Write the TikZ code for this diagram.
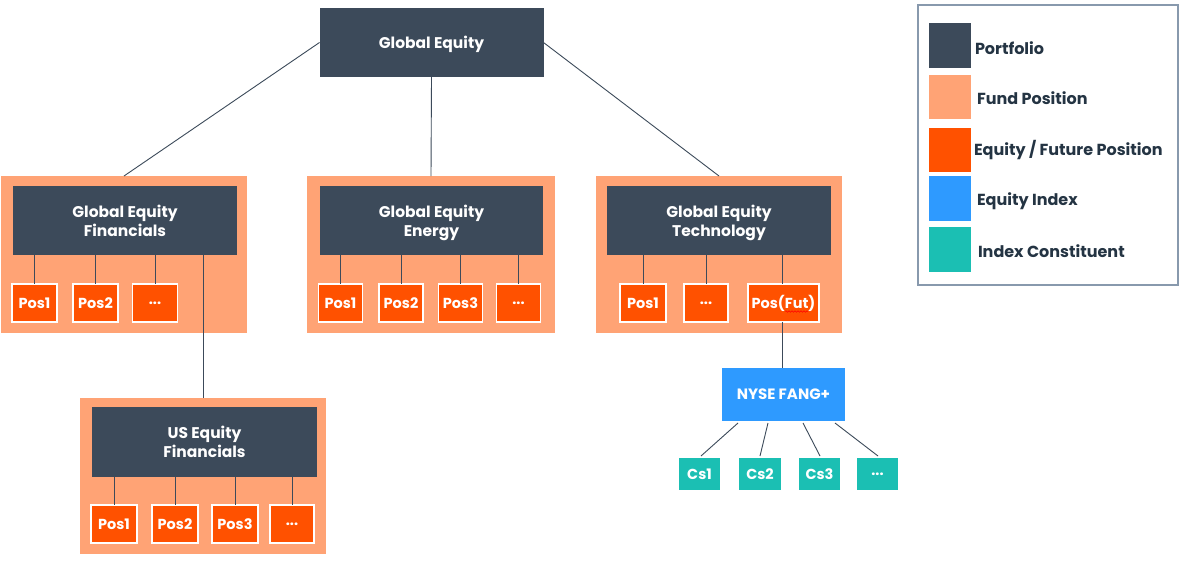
\documentclass[tikz,border=0pt]{standalone}
\usepackage{fontspec}
\setmainfont{Poppins}
\usetikzlibrary{calc,decorations.pathmorphing}
\definecolor{port}{HTML}{3C4A5A}
\definecolor{fund}{HTML}{FFA375}
\definecolor{eqpos}{HTML}{FF5100}
\definecolor{eqidx}{HTML}{2E9AFF}
\definecolor{cons}{HTML}{1BBFB3}
\definecolor{legbd}{HTML}{8899AD}
\definecolor{legtx}{HTML}{243443}
\begin{document}
\begin{tikzpicture}[x=1pt,y=-1pt,
  every node/.style={inner sep=0pt,outer sep=0pt},
  fundbox/.style={fill=fund,minimum width=246,minimum height=157},
  portbox/.style={fill=port,minimum width=224,minimum height=69,text=white,font=\fontsize{15.5}{19}\selectfont\bfseries,align=center,text depth=-3pt},
  posbox/.style={fill=eqpos,draw=white,line width=1.6pt,minimum width=44,minimum height=38,text=white,font=\fontsize{14.5}{17}\selectfont\bfseries},
  idxbox/.style={fill=eqidx,minimum width=123,minimum height=53,text=white,font=\fontsize{15}{17}\selectfont\bfseries},
  csbox/.style={fill=cons,minimum width=41,minimum height=32,text=white,font=\fontsize{14.5}{17}\selectfont\bfseries},
  conn/.style={draw=port,line width=0.9pt},
  swatch/.style={minimum width=42,minimum height=45},
  legtext/.style={anchor=west,text=legtx,font=\fontsize{16}{18}\selectfont\bfseries}]
\useasboundingbox (0,0) rectangle (1184,562);
\fill[white] (0,0) rectangle (1184,562);

% fund boxes
\node[fundbox] (f1) at (124,254.5) {};
\node[fundbox,minimum width=248] (f2) at (431,254.5) {};
\node[fundbox] (f3) at (719,254.5) {};
\node[fundbox,minimum height=156] (f4) at (203,476) {};

% portfolios
\node[portbox,minimum height=69] (ge) at (431.5,42.5) {Global Equity};
\node[portbox] (gef) at (125,220.5) {Global Equity\\Financials};
\node[portbox,minimum width=223] (gee) at (431.5,220.5) {Global Equity\\Energy};
\node[portbox] (get) at (719,220.5) {Global Equity\\Technology};
\node[portbox,minimum width=225,minimum height=70] (usf) at (204.5,442) {US Equity\\Financials};

% positions
\node[posbox,minimum width=45] (a1) at (34.5,303) {Pos1};
\node[posbox,minimum width=45] (a2) at (95.5,303) {Pos2};
\node[posbox,minimum width=45] (a3) at (155,303) {...};

\node[posbox] (b1) at (340.5,303) {Pos1};
\node[posbox] (b2) at (401,303) {Pos2};
\node[posbox] (b3) at (460.5,303) {Pos3};
\node[posbox] (b4) at (518.5,303) {...};

\node[posbox,minimum width=46] (c1) at (643,303) {Pos1};
\node[posbox] (c2) at (706,303) {...};
\node[posbox,minimum width=71] (c3) at (783.5,303) {Pos(Fut)};

\node[posbox,minimum width=46] (d1) at (114,524) {Pos1};
\node[posbox,minimum width=46] (d2) at (175,524) {Pos2};
\node[posbox,minimum width=46] (d3) at (235,524) {Pos3};
\node[posbox] (d4) at (292,524) {...};

% spell-check squiggle under "Fut"
\coordinate (sq1) at (785,311.5);
\coordinate (sq2) at (808,311.5);
\draw[red,line width=0.5pt,decorate,decoration={snake,amplitude=0.8pt,segment length=3pt}] (sq1) -- (sq2);

% index and constituents
\node[idxbox] (nyse) at (783.5,394.5) {NYSE FANG+};
\node[csbox] (s1) at (699.5,474) {Cs1};
\node[csbox,minimum width=42] (s2) at (760,474) {Cs2};
\node[csbox] (s3) at (819.5,474) {Cs3};
\node[csbox] (s4) at (877.5,474) {...};

% connectors
\draw[conn] (ge.west) -- (f1.north);
\draw[conn] (ge.south) -- (f2.north);
\draw[conn] (ge.east) -- (f3.north);

\foreach \n in {a1,a2,a3} {\draw[conn] (\n.north |- gef.south) -- (\n.north);}
\draw[conn] (f4.north |- gef.south) -- (f4.north);
\foreach \n in {b1,b2,b3,b4} {\draw[conn] (\n.north |- gee.south) -- (\n.north);}
\foreach \n in {c1,c2} {\draw[conn] (\n.north |- get.south) -- (\n.north);}
\draw[conn] ([xshift=-1.5pt]c3.north |- get.south) -- ([xshift=-1.5pt]c3.north);
\draw[conn] ([xshift=-1.5pt]c3.south) -- ([xshift=-1.5pt]c3.south |- nyse.north);
\foreach \n in {d1,d2,d3,d4} {\draw[conn] (\n.north |- usf.south) -- (\n.north);}

\draw[conn] ($(nyse.south west)+(16,2)$) -- ($(s1.north)+(1.5,-2)$);
\draw[conn] ($(nyse.south west)+(46,2)$) -- ($(s2.north)+(0,-2)$);
\draw[conn] ($(nyse.south west)+(81,2)$) -- ($(s3.north)+(0.5,-2)$);
\draw[conn] ($(nyse.south west)+(113,2)$) -- ($(s4.north)+(0.5,-2)$);

% legend
\node[draw=legbd,line width=2pt,minimum width=260,minimum height=280] (leg) at (1048,145) {};
\node[swatch,fill=port] (l1) at (950,45) {};
\node[swatch,fill=fund,minimum height=44] (l2) at (950,97) {};
\node[swatch,fill=eqpos,minimum height=44] (l3) at (950,150) {};
\node[swatch,fill=eqidx] (l4) at (950,198.5) {};
\node[swatch,fill=cons] (l5) at (950,249.5) {};
\node[legtext] (t1) at (975,48) {Portfolio};
\node[legtext] (t2) at (977,98) {Fund Position};
\node[legtext] (t3) at (974,150) {Equity / Future Position};
\node[legtext] (t4) at (977,201) {Equity Index};
\node[legtext] (t5) at (978,251) {Index Constituent};
\end{tikzpicture}
\end{document}
